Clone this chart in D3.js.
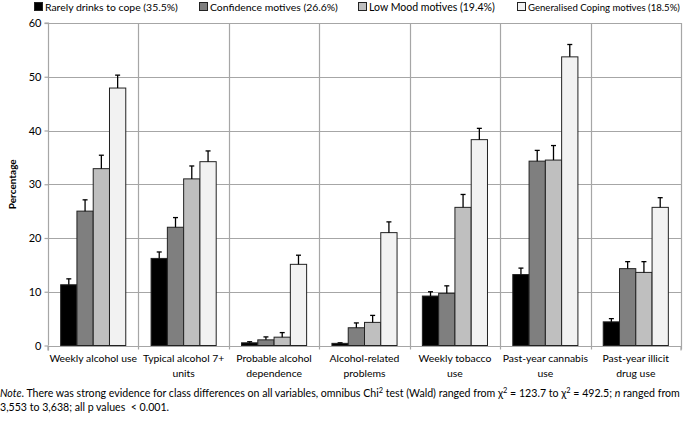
<!DOCTYPE html>
<html><head><meta charset="utf-8">
<script src="https://cdn.jsdelivr.net/npm/d3@7"></script>
<style>
html,body{margin:0;padding:0;background:#fff;}
svg{display:block;}
text{font-family:Lato,"Open Sans",sans-serif;fill:#000;}
</style></head>
<body><svg id="chart" width="685" height="424"></svg>
<script>
const categories = ["Weekly alcohol use","Typical alcohol 7+ units","Probable alcohol dependence","Alcohol-related problems","Weekly tobacco use","Past-year cannabis use","Past-year illicit drug use"];
const categoryLines = [["Weekly alcohol use"],["Typical alcohol 7+","units"],["Probable alcohol","dependence"],["Alcohol-related","problems"],["Weekly tobacco","use"],["Past-year cannabis","use"],["Past-year illicit","drug use"]];
const seriesNames = ["Rarely drinks to cope (35.5%)","Confidence motives (26.6%)","Low Mood motives (19.4%)","Generalised Coping motives (18.5%)"];
const seriesColors = ["#000000","#7f7f7f","#bfbfbf","#f2f2f2"];
const rarely      = [11.3, 16.2, 0.5, 0.4, 9.2, 13.2, 4.4];
const confidence  = [25.0, 22.0, 1.05, 3.3, 9.7, 34.3, 14.3];
const lowMood     = [32.9, 31.0, 1.55, 4.3, 25.7, 34.5, 13.6];
const generalised = [47.9, 34.2, 15.1, 21.0, 38.3, 53.7, 25.7];
const rarelyUpper      = [12.4, 17.4, 0.7, 0.5, 10.0, 14.4, 5.0];
const confidenceUpper  = [27.1, 23.8, 1.6, 4.2, 11.1, 36.3, 15.6];
const lowMoodUpper     = [35.4, 33.4, 2.4, 5.6, 28.1, 37.2, 15.6];
const generalisedUpper = [50.3, 36.2, 16.8, 23.0, 40.4, 56.0, 27.5];
const yTicks = [0,10,20,30,40,50,60];
const yLabel = "Percentage";

const seriesValues = [rarely, confidence, lowMood, generalised];
const seriesUpper = [rarelyUpper, confidenceUpper, lowMoodUpper, generalisedUpper];

const svg = d3.select("#chart");
const L = 48, R = 681, T = 23, B = 345.5;
const x = d3.scaleBand().domain(categories).range([L, R]).padding(0);
const bw = x.bandwidth();
const xi = d3.scaleBand().domain(d3.range(4)).range([bw*0.14, bw*0.86]).padding(0);
const y = d3.scaleLinear().domain([0,60]).range([B, T]);
const grid = "#a6a6a6";

function fit(sel, target){
  const fs = +sel.attr("font-size");
  const w = sel.node().getComputedTextLength();
  if (w > 0) sel.attr("font-size", (fs*target/w).toFixed(2));
  return sel;
}

// horizontal gridlines
svg.append("g").selectAll("line").data(yTicks.filter(d=>d>0)).join("line")
  .attr("x1", L).attr("x2", R).attr("y1", d=>Math.round(y(d))+0.5).attr("y2", d=>Math.round(y(d))+0.5)
  .attr("stroke", grid).attr("stroke-width", 1.2);
// vertical category lines
svg.append("g").selectAll("line").data(categories.slice(1).concat(["__end"])).join("line")
  .attr("x1", (d,i)=> Math.round(i<6 ? x(d) : R)+0.5).attr("x2", (d,i)=> Math.round(i<6 ? x(d) : R)+0.5)
  .attr("y1", T).attr("y2", B+4).attr("stroke", grid).attr("stroke-width", 1.2);

// y axis
const yAxis = d3.axisLeft(y).tickValues(yTicks).tickSize(4).tickPadding(3);
const gy = svg.append("g").attr("transform", `translate(${L+0.5},0)`).call(yAxis);
gy.select(".domain").attr("stroke", grid).attr("stroke-width",1.2).attr("d", `M-4,${T}H0V${B}`);
gy.selectAll(".tick line").attr("stroke", grid).attr("stroke-width",1.2);
gy.selectAll(".tick text").attr("font-family","Lato,'Open Sans',sans-serif").attr("font-size",11).attr("fill","#000");

// x axis
const xAxis = d3.axisBottom(x).tickSize(0).tickFormat("");
const gx = svg.append("g").attr("transform", `translate(0,${Math.round(B)+0.5})`).call(xAxis);
gx.select(".domain").attr("stroke", grid).attr("stroke-width",1.2).attr("d", `M${L},4V0H${R}V4`);
gx.append("line").attr("x1",L+0.5).attr("x2",L+0.5).attr("y1",0).attr("y2",4).attr("stroke",grid).attr("stroke-width",1.2);

// x labels
const xl = svg.append("g");
const xFont = 10.4;
categories.forEach((c,i)=>{
  const t = xl.append("text").attr("x", x(c)+bw/2).attr("y", 362).attr("text-anchor","middle").attr("font-size",xFont);
  categoryLines[i].forEach((ln,j)=> t.append("tspan").attr("x", x(c)+bw/2).attr("dy", j===0?0:14.5).text(ln));
});

// bars
seriesValues.forEach((vals, s)=>{
  const g = svg.append("g");
  g.selectAll("rect").data(vals).join("rect")
    .attr("x", (d,i)=> x(categories[i]) + xi(s))
    .attr("y", d=> y(d))
    .attr("width", xi.bandwidth())
    .attr("height", d=> B - y(d))
    .attr("fill", seriesColors[s]).attr("stroke", "#222").attr("stroke-width", 1);
  const eg = svg.append("g").attr("stroke","#000").attr("stroke-width",1.3);
  seriesUpper[s].forEach((u,i)=>{
    const cx = x(categories[i]) + xi(s) + xi.bandwidth()/2;
    eg.append("line").attr("x1",cx).attr("x2",cx).attr("y1",y(vals[i])).attr("y2",y(u));
    eg.append("line").attr("x1",cx-2.5).attr("x2",cx+2.5).attr("y1",y(u)).attr("y2",y(u));
  });
});

// y label
svg.append("text").attr("transform", `translate(16,${(T+B)/2}) rotate(-90)`).attr("text-anchor","middle")
  .attr("font-size",10).attr("font-weight","bold").text(yLabel);

// legend
const legendX = [34, 199, 358, 517];
const legendW = [133, 128, 126, 152];
seriesNames.forEach((n,s)=>{
  svg.append("rect").attr("x", legendX[s]+0.5).attr("y", 2.5).attr("width", 8).attr("height", 8)
    .attr("fill", seriesColors[s]).attr("stroke", "#222").attr("stroke-width", 1);
  const t = svg.append("text").attr("x", legendX[s]+11).attr("y", 10.5).attr("font-size", 11).text(n);
  fit(t, legendW[s]);
});

// note
const note = svg.append("text").attr("x", 0).attr("y", 397).attr("font-size", 10);
note.append("tspan").attr("font-style","italic").text("Note");
note.append("tspan").text(". There was strong evidence for class differences on all variables, omnibus Chi");
note.append("tspan").attr("class","sup").attr("font-size",7).attr("dy",-4).text("2");
note.append("tspan").attr("dy",4).text(" test (Wald) ranged from χ");
note.append("tspan").attr("class","sup").attr("font-size",7).attr("dy",-4).text("2");
note.append("tspan").attr("dy",4).text(" = 123.7 to χ");
note.append("tspan").attr("class","sup").attr("font-size",7).attr("dy",-4).text("2");
note.append("tspan").attr("dy",4).text(" = 492.5; ");
note.append("tspan").attr("font-style","italic").text("n");
note.append("tspan").text(" ranged from");
const nw = note.node().getComputedTextLength();
const noteFont = 10*680/nw;
note.attr("font-size", noteFont.toFixed(2));
note.selectAll("tspan.sup").attr("font-size",(noteFont*0.7).toFixed(2));
svg.append("text").attr("x", 0).attr("y", 410.5).attr("font-size", noteFont.toFixed(2)).attr("xml:space","preserve").text("3,553 to 3,638; all p values  < 0.001.");
</script></body></html>
